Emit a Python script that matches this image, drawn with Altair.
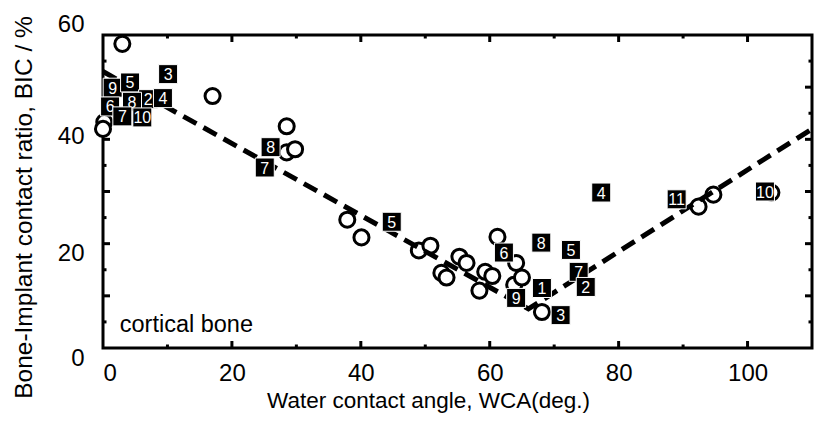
import altair as alt
import pandas as pd

# ---- data ----
circle_x = [3.0, 0.2, 0.0, 17.0, 28.5, 28.5, 29.8, 37.9, 40.1, 49.0, 50.8,
            52.5, 53.3, 55.3, 56.4, 58.4, 59.3, 60.4, 61.2, 63.8, 64.1, 65.0,
            68.1, 92.4, 94.7, 103.7]
circle_y = [58.3, 43.3, 42.0, 48.3, 42.5, 37.5, 38.1, 24.6, 21.2, 18.7, 19.6,
            14.4, 13.5, 17.5, 16.3, 11.0, 14.6, 13.8, 21.3, 12.1, 16.3, 13.5,
            6.9, 27.1, 29.4, 29.8]

sq_label = ["3", "9", "5", "6", "2", "4", "8", "10", "7",
            "8", "7", "5",
            "6", "8", "5", "7", "2", "1", "9", "3",
            "4", "11", "10"]
sq_x = [10.1, 1.5, 4.2, 1.1, 7.0, 9.3, 4.5, 6.1, 3.0,
        26.0, 25.1, 44.8,
        62.2, 68.0, 72.6, 73.8, 74.9, 68.1, 64.1, 71.0,
        77.3, 89.0, 102.7]
sq_y = [52.5, 49.9, 50.9, 46.3, 47.7, 47.9, 47.2, 44.2, 44.4,
        38.5, 34.6, 24.2,
        18.3, 20.2, 18.8, 14.6, 11.7, 11.5, 9.6, 6.3,
        29.8, 28.5, 30.0]

fit_x = [0.0, 66.0, 110.0]
fit_y = [53.0, 7.5, 42.0]

x_tick_labels = [0, 20, 40, 60, 80, 100]
y_tick_labels = [0, 20, 40, 60]
x_major = [20, 40, 60, 80, 100]
x_minor = [10, 30, 50, 70, 90]
y_major = [10, 20, 30, 40, 50]
y_minor = [5, 15, 25, 35, 45, 55]

note_text = ["cortical bone"]
note_x = [2.6]
note_y = [4.4]

# ---- chart ----
W, H = 709, 313
FONT = "Liberation Sans"
xs = alt.Scale(domain=[0, 110], nice=False, zero=False)
ys = alt.Scale(domain=[0, 60], nice=False, zero=False)

circles = pd.DataFrame({"x": circle_x, "y": circle_y})
squares = pd.DataFrame({"x": sq_x, "y": sq_y, "label": sq_label,
                        "k": list(range(len(sq_label)))})
fit = pd.DataFrame({"x": fit_x, "y": fit_y})
note = pd.DataFrame({"x": note_x, "y": note_y, "t": note_text})

x_axis = alt.Axis(
    values=x_tick_labels, ticks=False, domain=False, grid=False,
    labelFont=FONT, labelFontSize=24, labelColor="black", labelPadding=13,
    title="Water contact angle, WCA(deg.)", titleFont=FONT, titleFontSize=22.5,
    titleFontWeight="normal", titleColor="black", titleX=325, titleY=59,
    titleAlign="center", titleBaseline="alphabetic",
)
y_axis = alt.Axis(
    values=y_tick_labels, ticks=False, domain=False, grid=False,
    labelFont=FONT, labelFontSize=24, labelColor="black", labelPadding=19,
    labelOffset={"condition": [
        {"test": "datum.value == 60", "value": -11},
        {"test": "datum.value == 40", "value": -3},
        {"test": "datum.value == 20", "value": 10},
        {"test": "datum.value == 0", "value": 10},
    ], "value": 0},
    title="Bone-Implant contact ratio, BIC / %", titleFont=FONT,
    titleFontSize=24.5, titleFontWeight="normal", titleColor="black",
    titleX=-72, titleY=172, titleAlign="center", titleBaseline="alphabetic",
    titleAngle=270,
)

X = alt.X("x:Q", scale=xs, axis=x_axis)
Y = alt.Y("y:Q", scale=ys, axis=y_axis)

circle_layer = alt.Chart(circles).mark_point(
    shape="circle", filled=False, fill="white", fillOpacity=1,
    stroke="black", strokeWidth=3, size=227, opacity=1,
).encode(x=X, y=Y)

line_layer = alt.Chart(fit).mark_line(
    color="black", strokeWidth=5, strokeDash=[15, 8]
).encode(x=X, y=Y)

# each numbered box is drawn with its number before the next box, so that
# overlapping boxes hide each other as in the reference
box_layers = []
for k in range(len(sq_label)):
    one = alt.Chart(squares).transform_filter(alt.datum.k == k)
    box_layers.append(one.mark_square(
        size=361, fill="black", stroke="white", strokeWidth=1, opacity=1
    ).encode(x=X, y=Y))
    box_layers.append(one.mark_text(
        color="white", font=FONT, fontSize=16, align="center",
        baseline="middle", dy=1
    ).encode(x=X, y=Y, text="label:N"))

note_layer = alt.Chart(note).mark_text(
    color="black", font=FONT, fontSize=23.5, align="left", baseline="middle"
).encode(x=X, y=Y, text="t:N")


def xticks(vals, length, width):
    df = pd.DataFrame({"x": vals})
    base = alt.Chart(df).mark_rule(color="black", strokeWidth=width)
    bottom = base.encode(x=X, y=alt.value(H), y2=alt.value(H - length))
    top = base.encode(x=X, y=alt.value(0), y2=alt.value(length))
    return [bottom, top]


def yticks(vals, length, width):
    df = pd.DataFrame({"y": vals})
    base = alt.Chart(df).mark_rule(color="black", strokeWidth=width)
    left = base.encode(y=Y, x=alt.value(0), x2=alt.value(length))
    right = base.encode(y=Y, x=alt.value(W), x2=alt.value(W - length))
    return [left, right]


tick_layers = (xticks(x_major, 7, 3) + xticks(x_minor, 3.5, 3)
               + yticks(y_major, 7, 3) + yticks(y_minor, 3.5, 3))

chart = alt.layer(
    circle_layer, *tick_layers, line_layer, *box_layers, note_layer
).properties(
    width=W, height=H,
    padding={"left": 103, "top": 35, "right": 3, "bottom": 73},
    autosize=alt.AutoSizeParams(type="none"),
    background="white",
).configure_view(stroke="black", strokeWidth=3)

chart.save("out.html", embed_options={"renderer": "svg", "actions": False})
